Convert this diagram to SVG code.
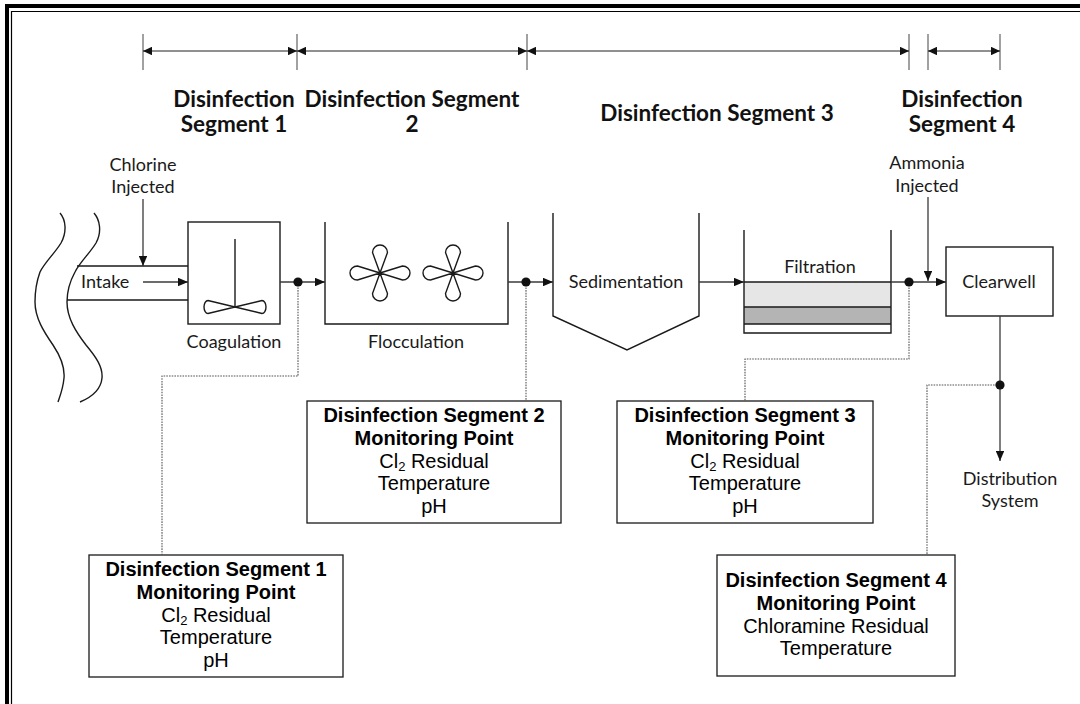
<svg xmlns="http://www.w3.org/2000/svg" width="1080" height="704" viewBox="0 0 1080 704">
<style>
.bg{fill:#fff}
.frm{fill:none;stroke:#000}
.shape{fill:none;stroke:#1a1a1a;stroke-width:1.4}
.flow{fill:none;stroke:#3a3a3a;stroke-width:1.3}
.dot{fill:#111}
.dotted{fill:none;stroke:#555;stroke-width:1.1;stroke-dasharray:1.6 1.1}
.dim{fill:none;stroke:#222;stroke-width:1.1}
.tick{fill:none;stroke:#555;stroke-width:1.1}
.hdr{font-family:Lato,"Open Sans","Liberation Sans",sans-serif;font-weight:bold;font-size:22.5px;fill:#111;text-anchor:middle}
.lbl{font-family:Lato,"Open Sans","Liberation Sans",sans-serif;font-size:18px;fill:#1a1a1a;text-anchor:middle}
.bx{font-family:"Liberation Sans",Arial,sans-serif;font-size:20px;fill:#000;text-anchor:middle}
.b{font-weight:bold}
.box{fill:#fff;stroke:#1a1a1a;stroke-width:1.3}
</style>
<defs>
<marker id="ah" viewBox="0 0 10 8.5" refX="10" refY="4.25" markerWidth="10" markerHeight="8.5" markerUnits="userSpaceOnUse" orient="auto-start-reverse">
<path d="M0,0 L10,4.25 L0,8.5 Z" fill="#111"/>
</marker>
<marker id="dh" viewBox="0 0 9 8.5" refX="9" refY="4.25" markerWidth="9" markerHeight="8.5" markerUnits="userSpaceOnUse" orient="auto-start-reverse">
<path d="M0,0 L9,4.25 L0,8.5 Z" fill="#111"/>
</marker>
<path id="impeller" d="M0,0 L-7.5,-20.5 A7.5,7.5 0 0 1 7.5,-20.5 Z M0,0 L-7.5,20.5 A7.5,7.5 0 0 0 7.5,20.5 Z M0,0 L-22.5,-7 A7.5,7 0 0 0 -22.5,7 Z M0,0 L22.5,-7 A7.5,7 0 0 1 22.5,7 Z"/>
</defs>
<rect class="bg" x="0" y="0" width="1080" height="704"/>

<g id="frame">
<path class="frm" d="M7,704 V6 H1080" stroke-width="4"/>
<path class="frm" d="M11.5,704 V11.5 H1080" stroke-width="1.2"/>
</g>

<g id="segment-headers">
<text class="hdr" x="234" y="107">Disinfection</text>
<text class="hdr" x="234" y="132">Segment 1</text>
<text class="hdr" x="412" y="107">Disinfection Segment</text>
<text class="hdr" x="412" y="132">2</text>
<text class="hdr" x="717" y="121">Disinfection Segment 3</text>
<text class="hdr" x="962" y="107">Disinfection</text>
<text class="hdr" x="962" y="132">Segment 4</text>
</g>

<g id="source-water">
<path class="shape" d="M60,213 C66,220 67,232 61,243 C55,253 45,262 40,272 C36,283 35,292 35,302 C35,318 44,332 53,345 C61,357 65,367 64,378 C63,389 60,396 58,402"/>
<path class="shape" d="M94,213 C100,220 102,232 96,243 C90,253 80,262 75,272 C69,283 67,292 67,302 C67,318 76,332 86,345 C96,357 103,367 102,378 C101,389 92,397 80,402"/>
</g>

<g id="intake">
<path class="shape" d="M77,266 H188 M67,300 H188"/>
<text class="lbl" x="81" y="288" style="text-anchor:start">Intake</text>
</g>

<g id="chlorine-injection">
<text class="lbl" x="143" y="171">Chlorine</text>
<text class="lbl" x="143" y="193">Injected</text>
</g>

<g id="coagulation">
<rect class="shape" x="188" y="222" width="92" height="102"/>
<path class="shape" d="M235,239 V307"/>
<path class="shape" d="M235,307 L208,300.5 A4,6.5 0 0 0 208,313.5 Z M235,307 L262,300.5 A4,6.5 0 0 1 262,313.5 Z"/>
<text class="lbl" x="234" y="348">Coagulation</text>
</g>

<g id="flocculation">
<path class="shape" d="M325,222 V324 H508 V222"/>
<use href="#impeller" x="380" y="273" class="shape"/>
<use href="#impeller" x="453" y="273" class="shape"/>
<text class="lbl" x="416" y="348">Flocculation</text>
</g>

<g id="sedimentation">
<path class="shape" d="M553,213 V316 L627,350 L699,316 V213"/>
<text class="lbl" x="626" y="288">Sedimentation</text>
</g>

<g id="filtration">
<rect x="744" y="282" width="147" height="25" fill="#e6e6e6"/>
<rect x="744" y="307" width="147" height="17" fill="#b4b4b4"/>
<path class="shape" d="M744,230 V333 H891 V230 M744,282 H891 M744,307 H891 M744,324 H891"/>
<text class="lbl" x="820" y="273">Filtration</text>
</g>

<g id="ammonia-injection">
<text class="lbl" x="927" y="169">Ammonia</text>
<text class="lbl" x="927" y="192">Injected</text>
</g>

<g id="clearwell">
<rect class="shape" x="946" y="247" width="107" height="69"/>
<text class="lbl" x="999" y="288">Clearwell</text>
</g>

<g id="distribution-system">
<text class="lbl" x="1010" y="485">Distribution</text>
<text class="lbl" x="1010" y="507">System</text>
</g>

<g id="monitoring-point-1">
<rect class="box" x="89" y="555" width="254" height="122"/>
<text class="bx b" x="216" y="576">Disinfection Segment 1</text>
<text class="bx b" x="216" y="599">Monitoring Point</text>
<text class="bx" x="216" y="621.5">Cl<tspan font-size="13" dy="3">2</tspan><tspan dy="-3"> Residual</tspan></text>
<text class="bx" x="216" y="644">Temperature</text>
<text class="bx" x="216" y="667">pH</text>
</g>

<g id="monitoring-point-2">
<rect class="box" x="307" y="401" width="254" height="122"/>
<text class="bx b" x="434" y="422">Disinfection Segment 2</text>
<text class="bx b" x="434" y="445">Monitoring Point</text>
<text class="bx" x="434" y="467.5">Cl<tspan font-size="13" dy="3">2</tspan><tspan dy="-3"> Residual</tspan></text>
<text class="bx" x="434" y="490">Temperature</text>
<text class="bx" x="434" y="513">pH</text>
</g>

<g id="monitoring-point-3">
<rect class="box" x="617" y="401" width="256" height="122"/>
<text class="bx b" x="745" y="422">Disinfection Segment 3</text>
<text class="bx b" x="745" y="445">Monitoring Point</text>
<text class="bx" x="745" y="467.5">Cl<tspan font-size="13" dy="3">2</tspan><tspan dy="-3"> Residual</tspan></text>
<text class="bx" x="745" y="490">Temperature</text>
<text class="bx" x="745" y="513">pH</text>
</g>

<g id="monitoring-point-4">
<rect class="box" x="717" y="555" width="238" height="121"/>
<text class="bx b" x="836" y="587">Disinfection Segment 4</text>
<text class="bx b" x="836" y="610">Monitoring Point</text>
<text class="bx" x="836" y="632.5">Chloramine Residual</text>
<text class="bx" x="836" y="655">Temperature</text>
</g>

<g id="connectors">
<path class="tick" d="M143,34 V70 M297,34 V70 M527,34 V70 M909,34 V70 M928,34 V70 M1000,34 V70"/>
<path class="dim" d="M143,51 H297" marker-start="url(#dh)" marker-end="url(#dh)"/>
<path class="dim" d="M297,51 H527" marker-start="url(#dh)" marker-end="url(#dh)"/>
<path class="dim" d="M527,51 H909" marker-start="url(#dh)" marker-end="url(#dh)"/>
<path class="dim" d="M928,51 H1000" marker-start="url(#dh)" marker-end="url(#dh)"/>

<path class="flow" d="M143,199 V266" marker-end="url(#ah)"/>
<path class="flow" d="M143,282 H188" marker-end="url(#ah)"/>
<path class="flow" d="M280,282 H325" marker-end="url(#ah)"/>
<path class="flow" d="M508,282 H553" marker-end="url(#ah)"/>
<path class="flow" d="M699,282 H744" marker-end="url(#ah)"/>
<path class="flow" d="M891,282 H946" marker-end="url(#ah)"/>
<path class="flow" d="M928,197 V281" marker-end="url(#ah)"/>
<path class="flow" d="M1000,316 V461" marker-end="url(#ah)"/>

<path class="dotted" d="M298,282 V376 H162 V555"/>
<path class="dotted" d="M526,282 V401"/>
<path class="dotted" d="M909,282 V359 H745 V401"/>
<path class="dotted" d="M1000,385 H927 V555"/>

<circle class="dot" cx="298" cy="282" r="4.6"/>
<circle class="dot" cx="526" cy="282" r="4.6"/>
<circle class="dot" cx="909" cy="282" r="4.6"/>
<circle class="dot" cx="1000" cy="385" r="4.6"/>
</g>
</svg>
